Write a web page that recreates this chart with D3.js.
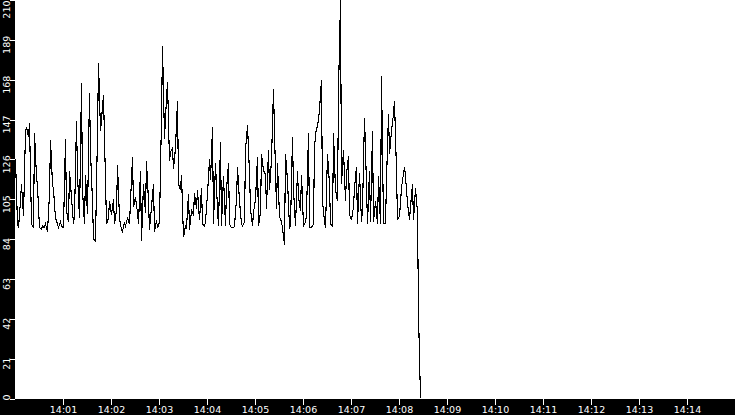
<!DOCTYPE html>
<html>
<head>
<meta charset="utf-8">
<script src="https://cdn.jsdelivr.net/npm/d3@7"></script>
<style>
html,body{margin:0;padding:0;background:#fff;}
svg{display:block;}
text{font-family:"DejaVu Sans",sans-serif;}
</style>
</head>
<body>
<svg id="chart" width="735" height="415"></svg>
<script>
// ---- data ----
const seriesStart = "14:00:00";
const sampleSeconds = 2;
const values = [
  126, 92, 90, 104, 113, 96, 141, 143, 138, 145,
  92, 90, 140, 117, 112, 90, 89, 91, 90, 92,
  88, 108, 136, 113, 110, 95, 92, 90, 93, 91,
  90, 137, 99, 93, 120, 106, 92, 96, 146, 118,
  95, 166, 110, 92, 118, 97, 161, 130, 104, 84,
  83, 140, 177, 141, 147, 160, 115, 92, 95, 104,
  97, 105, 92, 99, 123, 95, 89, 88, 93, 91,
  95, 92, 104, 127, 101, 106, 98, 92, 120, 83,
  113, 98, 125, 104, 89, 101, 113, 88, 94, 90,
  93, 148, 186, 137, 148, 167, 125, 130, 132, 121,
  132, 157, 113, 110, 118, 85, 91, 90, 108, 89,
  99, 97, 108, 100, 110, 94, 111, 92, 91, 93,
  108, 126, 115, 143, 92, 124, 100, 91, 135, 91,
  117, 91, 110, 124, 92, 90, 90, 91, 105, 122,
  104, 92, 91, 93, 131, 144, 119, 100, 91, 98,
  105, 127, 91, 98, 129, 120, 118, 100, 131, 110,
  126, 163, 140, 100, 124, 96, 93, 90, 81, 129,
  115, 90, 91, 138, 110, 91, 120, 106, 99, 118,
  91, 93, 97, 140, 90, 90, 92, 133, 143, 143,
  152, 168, 104, 93, 90, 129, 113, 92, 91, 140,
  110, 104, 162, 210, 113, 131, 104, 118, 128, 97,
  94, 101, 111, 122, 92, 119, 93, 100, 148, 132,
  92, 120, 93, 141, 93, 104, 92, 117, 92, 170,
  92, 92, 115, 150, 129, 141, 150, 157, 120, 94,
  96, 111, 115, 122, 117, 103, 94, 101, 113, 94,
  111, 98, 45, 0
];
const xDomain = ["14:00", "14:15"];
const xTickLabels = ["14:01","14:02","14:03","14:04","14:05","14:06","14:07",
                     "14:08","14:09","14:10","14:11","14:12","14:13","14:14"];
const yTicks = [0, 21, 42, 63, 84, 105, 126, 147, 168, 189, 210];
const yDomain = [0, 210];

// ---- drawing ----
const W = 735, H = 415;
const left = 15, bottom = 399;
const parseHM = d3.timeParse("%H:%M");
const parseHMS = d3.timeParse("%H:%M:%S");
const t0 = parseHMS(seriesStart);
const data = values.map((v, i) => ({t: d3.timeSecond.offset(t0, i * sampleSeconds), v}));

const x = d3.scaleTime().domain(xDomain.map(parseHM)).range([left, W]);
const y = d3.scaleLinear().domain(yDomain).range([bottom - 0.5, 0]);

const svg = d3.select("#chart");

// black frame strips
svg.append("rect").attr("x", 0).attr("y", 0).attr("width", left).attr("height", H).attr("fill", "#000");
svg.append("rect").attr("x", 0).attr("y", bottom).attr("width", W).attr("height", H - bottom).attr("fill", "#000");

// plot line
svg.append("path")
  .datum(data)
  .attr("fill", "none")
  .attr("stroke", "#000")
  .attr("stroke-width", 1.1)
  .attr("shape-rendering", "crispEdges")
  .attr("d", d3.line().x(d => Math.round(x(d.t)) + 0.5).y(d => y(d.v)));

// x axis
const xAxis = svg.append("g")
  .attr("transform", `translate(0,${bottom})`)
  .call(d3.axisBottom(x)
    .tickValues(xTickLabels.map(parseHM))
    .tickFormat(d3.timeFormat("%H:%M"))
    .tickSize(6).tickPadding(1));
xAxis.select(".domain").remove();
xAxis.selectAll("line").attr("stroke", "#fff").attr("shape-rendering", "crispEdges");
xAxis.selectAll("text").attr("fill", "#fff").attr("font-size", "9.5px")
  .attr("font-family", "DejaVu Sans, sans-serif");

// y axis
const yAxis = svg.append("g")
  .attr("transform", `translate(${left},0)`)
  .call(d3.axisLeft(y).tickValues(yTicks).tickSize(5).tickFormat(d3.format("d")));
yAxis.select(".domain").remove();
yAxis.selectAll("line").attr("stroke", "#fff").attr("shape-rendering", "crispEdges");
yAxis.selectAll("text")
  .attr("fill", "#fff")
  .attr("font-size", "9.5px")
  .attr("font-family", "DejaVu Sans, sans-serif")
  .attr("x", null).attr("dy", null)
  .attr("text-anchor", "middle")
  .attr("transform", function(d) {
    const w = this.getComputedTextLength();
    let c = y(d) + 4.5;
    c = Math.max(w / 2, Math.min(bottom + 1 - w / 2, c));
    return `translate(-5.5,${c - y(d)}) rotate(-90)`;
  });
</script>
</body>
</html>
